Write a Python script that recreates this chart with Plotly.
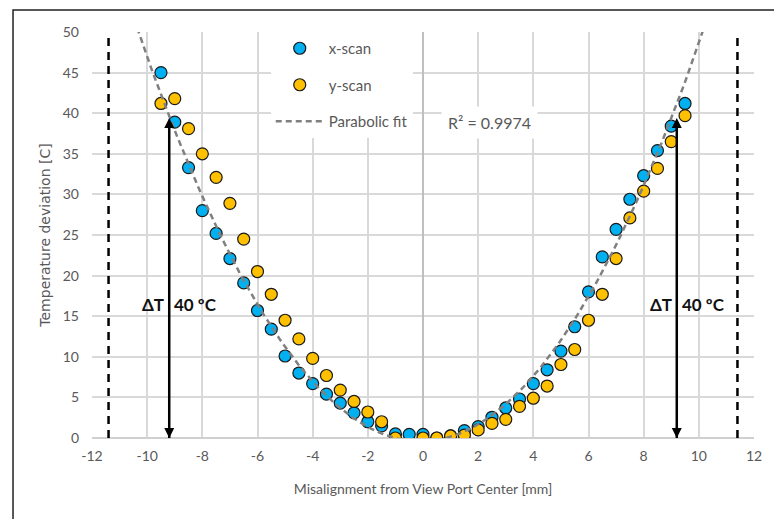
import numpy as np
import plotly.graph_objects as go

# ---- data ----
x_scan_x = [-9.5, -9.0, -8.5, -8.0, -7.5, -7.0, -6.5, -6.0, -5.5, -5.0, -4.5, -4.0, -3.5, -3.0,
            -2.5, -2.0, -1.5, -1.0, -0.5, 0.0, 0.5, 1.0, 1.5, 2.0, 2.5, 3.0, 3.5, 4.0, 4.5,
            5.0, 5.5, 6.0, 6.5, 7.0, 7.5, 8.0, 8.5, 9.0, 9.5]
x_scan_y = [45.0, 38.9, 33.3, 28.0, 25.2, 22.1, 19.1, 15.7, 13.4, 10.1, 8.0, 6.7, 5.4, 4.3,
            3.1, 2.0, 1.5, 0.5, 0.45, 0.45, 0.0, 0.25, 0.9, 1.4, 2.55, 3.7, 4.8, 6.7, 8.4,
            10.7, 13.7, 18.0, 22.3, 25.7, 29.4, 32.3, 35.4, 38.4, 41.2]

y_scan_x = [-9.5, -9.0, -8.5, -8.0, -7.5, -7.0, -6.5, -6.0, -5.5, -5.0, -4.5, -4.0, -3.5, -3.0,
            -2.5, -2.0, -1.5, -1.0, 0.0, 0.5, 1.0, 1.5, 2.0, 2.5, 3.0, 3.5, 4.0, 4.5,
            5.0, 5.5, 6.0, 6.5, 7.0, 7.5, 8.0, 8.5, 9.0, 9.5]
y_scan_y = [41.2, 41.8, 38.1, 35.0, 32.1, 28.9, 24.5, 20.5, 17.7, 14.5, 12.2, 9.8, 7.7, 5.9,
            4.5, 3.2, 2.0, 0.0, 0.0, 0.0, 0.25, 0.35, 1.0, 1.8, 2.3, 3.9, 4.9, 6.4,
            9.05, 10.9, 14.5, 17.7, 22.1, 27.1, 30.4, 33.2, 36.5, 39.7]

x_ticks = [-12, -10, -8, -6, -4, -2, 0, 2, 4, 6, 8, 10, 12]
y_ticks = [0, 5, 10, 15, 20, 25, 30, 35, 40, 45, 50]

view_port_edges = [-11.4, 11.4]
arrow_x = [-9.2, 9.2]
arrow_span = [0.0, 39.4]
delta_t = 40
label_y = 16.5
r2_text = "R² = 0.9974"

# ---- parabolic fit (least squares on the x-scan data) ----
coef = np.polyfit(x_scan_x, x_scan_y, 2)
fit_x = np.linspace(-10.6, 10.6, 200)
fit_y = np.polyval(coef, fit_x)

BLUE = "#00b0f0"
GOLD = "#ffc000"
GRAY_TXT = "#595959"
FONT = "Lato"

fig = go.Figure()
fig.add_trace(go.Scatter(
    x=x_scan_x, y=x_scan_y, mode="markers", name="x-scan", legendgroup="a",
    marker=dict(size=12, color=BLUE, line=dict(color="#1a1a1a", width=1.2))))
fig.add_trace(go.Scatter(
    x=y_scan_x, y=y_scan_y, mode="markers", name="y-scan", legendgroup="b",
    marker=dict(size=12, color=GOLD, line=dict(color="#1a1a1a", width=1.2))))
fig.add_trace(go.Scatter(
    x=fit_x, y=fit_y, mode="lines", name="Parabolic fit", legendgroup="c",
    line=dict(color="#808080", width=2.5, dash="6px,4px")))

# double-headed ΔT arrows
for xv in arrow_x:
    fig.add_trace(go.Scatter(
        x=[xv, xv], y=arrow_span, mode="lines+markers", showlegend=False, hoverinfo="skip",
        cliponaxis=False,
        line=dict(color="black", width=2.5),
        marker=dict(symbol=["arrow-down", "arrow-up"], size=10, color="black",
                    line=dict(width=0))))

shapes = []
for xv in view_port_edges:
    shapes.append(dict(type="line", xref="x", yref="y", x0=xv, x1=xv, y0=0, y1=50,
                       line=dict(color="black", width=2.5, dash="8px,6px"), layer="above"))
# outer frame
shapes.append(dict(type="rect", xref="paper", yref="paper", x0=-0.1193, x1=1.0347,
                   y0=-0.3, y1=1.054, line=dict(color="#222222", width=1.5)))

label_font = dict(family=FONT, size=17, color="#111111", weight="bold")
annotations = []
for xv in arrow_x:
    annotations.append(dict(x=xv, y=label_y, xref="x", yref="y", text="ΔT", showarrow=False,
                            xanchor="right", xshift=-3, font=label_font))
    annotations.append(dict(x=xv, y=label_y, xref="x", yref="y",
                            text="%d ºC" % delta_t, showarrow=False,
                            xanchor="left", xshift=3, font=label_font))
annotations.append(dict(x=2.4, y=38.9, xref="x", yref="y", text=r2_text, showarrow=False,
                        bgcolor="white", borderpad=6,
                        font=dict(family=FONT, size=16, color=GRAY_TXT)))

# page body has an 8px margin: offset the figure margins so the plot area lands in place
fig.update_layout(
    width=782, height=519,
    margin=dict(l=84, r=36, t=24, b=89),
    paper_bgcolor="white", plot_bgcolor="white",
    font=dict(family=FONT, color=GRAY_TXT),
    showlegend=True,
    legend=dict(x=0.27, y=1.0, xanchor="left", yanchor="top", bgcolor="white",
                font=dict(family=FONT, size=15, color=GRAY_TXT), itemwidth=48,
                tracegroupgap=14, borderwidth=0),
    xaxis=dict(range=[-12, 12], tickvals=x_ticks, ticktext=[str(v) for v in x_ticks],
               showgrid=True, gridcolor="#d9d9d9", gridwidth=1.5,
               zeroline=True, zerolinecolor="#bfbfbf", zerolinewidth=1.5,
               showline=False, ticks="", ticklabelstandoff=8,
               tickfont=dict(family=FONT, size=14, color=GRAY_TXT),
               title=dict(text="Misalignment from View Port Center [mm]", standoff=21,
                          font=dict(family=FONT, size=14, color=GRAY_TXT))),
    yaxis=dict(range=[0, 50], tickvals=y_ticks, ticktext=[str(v) for v in y_ticks],
               showgrid=True, gridcolor="#d9d9d9", gridwidth=1.5,
               zeroline=True, zerolinecolor="#d0d0d0", zerolinewidth=1.5,
               showline=False, ticks="", ticklabelstandoff=12,
               tickfont=dict(family=FONT, size=14, color=GRAY_TXT),
               title=dict(text="Temperature deviation [C]", standoff=8,
                          font=dict(family="DejaVu Sans", size=14, color=GRAY_TXT))),
    shapes=shapes,
    annotations=annotations,
)

fig.write_html("out.html")
